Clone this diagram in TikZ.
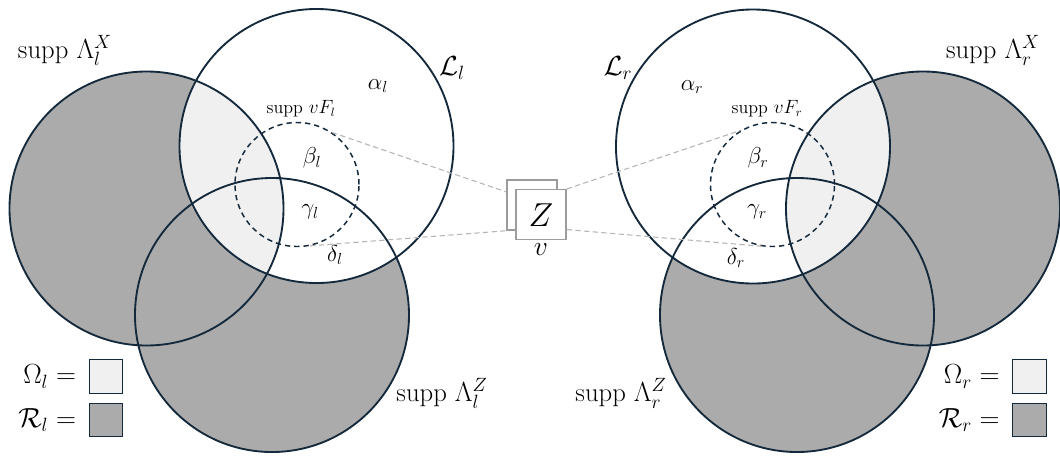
\documentclass[tikz,border=0pt]{standalone}
\usepackage{tikz}
\usetikzlibrary{positioning}
\usepackage{xcolor}
\definecolor{rim}{HTML}{14293B}
\definecolor{greyfill}{HTML}{ABABAB}
\definecolor{palefill}{HTML}{F0F0F0}
\definecolor{linkgray}{HTML}{B4B4B4}
\definecolor{boxgray}{HTML}{9C9C9C}

\begin{document}
\begin{tikzpicture}[
      x=0.75pt, y=-0.75pt,
      rimline/.style={draw=rim, line width=1.4pt},
      suppset/.style={
        circle, draw=rim, line width=1.1pt, dash pattern=on 4pt off 3pt,
        minimum size=93pt, inner sep=0pt
      },
      zbox/.style={
        draw=boxgray, fill=white, line width=1.1pt,
        minimum size=37.5pt, inner sep=0pt
      },
      legbox/.style={
        draw=rim, line width=0.9pt, minimum width=25pt, minimum height=25pt,
        inner sep=0pt
      },
      link/.style={draw=linkgray, line width=0.8pt, dash pattern=on 4pt off 2.5pt},
      biglab/.style={font=\fontsize{20}{24}\selectfont},
      midlab/.style={font=\fontsize{18}{21}\selectfont},
      smalllab/.style={font=\fontsize{13.5}{16}\selectfont}
    ]
    \useasboundingbox (0,0) rectangle (1060,455);
    \def\rbig{102.75pt}

    % left side
    \coordinate (Ll) at (316.5,146);
    \coordinate (Xl) at (146.5,208.5);
    \coordinate (Zl) at (272,315);
    \fill[greyfill] (Xl) circle (\rbig);
    \fill[greyfill] (Zl) circle (\rbig);
    \fill[white] (Ll) circle (\rbig);
    \begin{scope}
      \clip (Ll) circle (\rbig);
      \fill[palefill] (Xl) circle (\rbig);
    \end{scope}
    \draw[rimline] (Xl) circle (\rbig);
    \draw[rimline] (Zl) circle (\rbig);
    \draw[rimline] (Ll) circle (\rbig);
    \node[suppset] (vFl) at (297,184.5) {};

    % right side
    \coordinate (Lr) at (753,146.5);
    \coordinate (Xr) at (923,208.5);
    \coordinate (Zr) at (797,315);
    \fill[greyfill] (Xr) circle (\rbig);
    \fill[greyfill] (Zr) circle (\rbig);
    \fill[white] (Lr) circle (\rbig);
    \begin{scope}
      \clip (Lr) circle (\rbig);
      \fill[palefill] (Xr) circle (\rbig);
    \end{scope}
    \draw[rimline] (Xr) circle (\rbig);
    \draw[rimline] (Zr) circle (\rbig);
    \draw[rimline] (Lr) circle (\rbig);
    \node[suppset] (vFr) at (772.5,184.5) {};

    % the Z block in the middle
    \node[zbox] (zback) at (532,205) {};
    \draw[link] (vFl.56) -- (zback.153);
    \draw[link] (vFl.-78) -- (zback.south west);
    \node[zbox, font=\fontsize{26}{28}\selectfont] (zfront) at (541,214.7) {$Z$};
    \draw[link] (zfront.north east) -- (vFr.120);
    \draw[link] (zfront.-30) -- (vFr.-100);
    \node[biglab, below=-1pt of zfront] (vlab) {$v$};

    % labels
    \node[biglab] (lamXl) at (65,50) {supp $\Lambda_l^X$};
    \node[biglab] (calLl) at (452,68) {$\mathcal{L}_l$};
    \node[midlab] (alphal) at (378,86) {$\alpha_l$};
    \node[smalllab] (vFlab) at (301,109) {supp $vF_l$};
    \node[midlab] (betal) at (312,158) {$\beta_l$};
    \node[midlab] (gammal) at (310,212) {$\gamma_l$};
    \node[midlab] (deltal) at (335,255) {$\delta_l$};
    \node[biglab] (lamZl) at (442,393) {supp $\Lambda_l^Z$};

    \node[biglab] (lamXr) at (993,50) {supp $\Lambda_r^X$};
    \node[biglab] (calLr) at (618,68) {$\mathcal{L}_r$};
    \node[midlab] (alphar) at (692,87) {$\alpha_r$};
    \node[smalllab] (vFrlab) at (767,109) {supp $vF_r$};
    \node[midlab] (betar) at (758,158) {$\beta_r$};
    \node[midlab] (gammar) at (757,212) {$\gamma_r$};
    \node[midlab] (deltar) at (736,258) {$\delta_r$};
    \node[biglab] (lamZr) at (621,393) {supp $\Lambda_r^Z$};

    % legends
    \node[legbox, fill=palefill] (omegal) at (106,376.5) {};
    \node[legbox, fill=greyfill] (regl) at (106,420) {};
    \node[biglab, left=6pt of omegal] {$\Omega_l =$};
    \node[biglab, left=6pt of regl] {$\mathcal{R}_l =$};
    \node[legbox, fill=palefill] (omegar) at (1029.5,376.5) {};
    \node[legbox, fill=greyfill] (regr) at (1029.5,420) {};
    \node[biglab, left=6pt of omegar] {$\Omega_r =$};
    \node[biglab, left=6pt of regr] {$\mathcal{R}_r =$};
  \end{tikzpicture}
\end{document}
